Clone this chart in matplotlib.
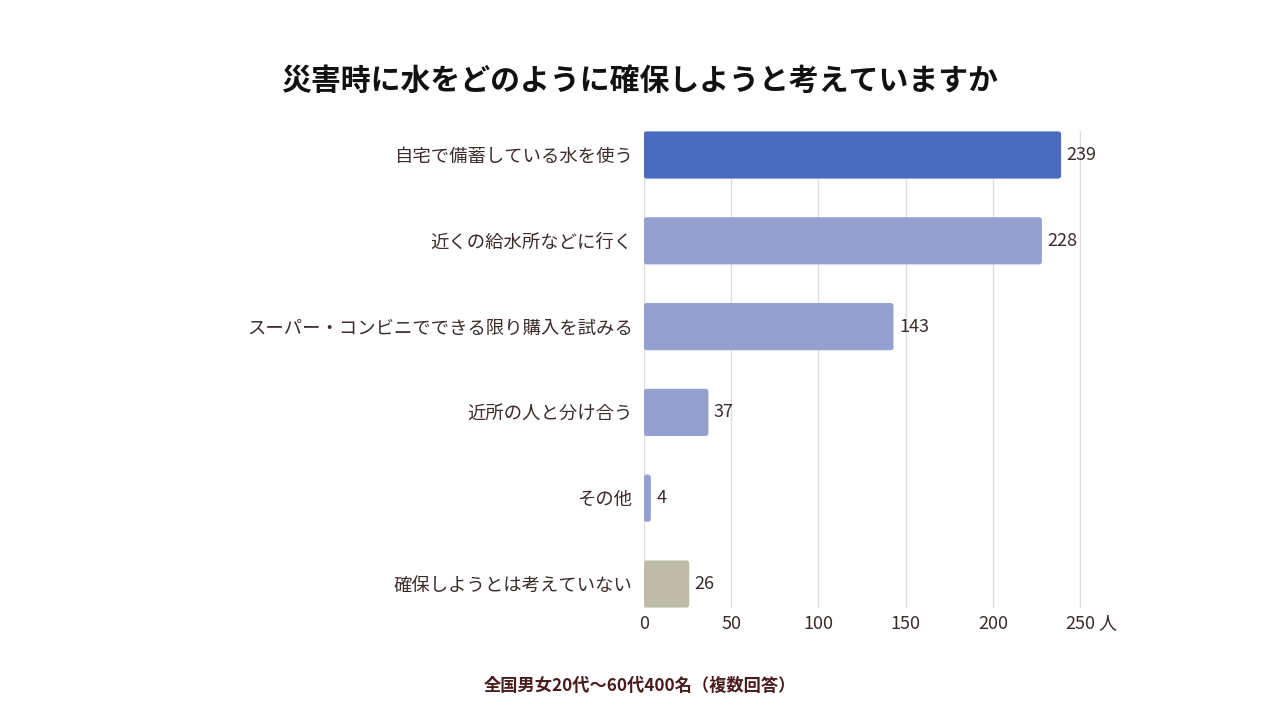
import matplotlib
matplotlib.use("Agg")
import matplotlib.pyplot as plt
from matplotlib.patches import FancyBboxPatch
from matplotlib.transforms import blended_transform_factory

plt.rcParams["font.family"] = ["Noto Sans CJK JP", "DejaVu Sans"]

# ── data ──
categories = [
    "自宅で備蓄している水を使う",
    "近くの給水所などに行く",
    "スーパー・コンビニでできる限り購入を試みる",
    "近所の人と分け合う",
    "その他",
    "確保しようとは考えていない",
]
counts = [239, 228, 143, 37, 4, 26]
bar_colors = ["#4a6bbf", "#94a0d0", "#94a0d0", "#94a0d0", "#94a0d0", "#bebba9"]
x_ticks = [0, 50, 100, 150, 200, 250]

title = "災害時に水をどのように確保しようと考えていますか"
footnote = "全国男女20代〜60代400名（複数回答）"
unit = "人"

text_color = "#3b2b2b"

fig = plt.figure(figsize=(12.8, 7.2), dpi=100)
ax = fig.add_axes([0.503, 0.1561, 0.3414, 0.6614])

y = list(range(len(categories)))
bars = ax.barh(y, counts, height=0.55, color=bar_colors, zorder=3)

ax.set_xlim(0, 250.3)
ax.set_ylim(5.275, -0.275)

# swap plain rectangles for slightly rounded ones
px_x = ax.get_window_extent().width / 250.3
px_y = ax.get_window_extent().height / 5.55
for b in bars:
    b.set_visible(False)
    w = b.get_width()
    r = min(1.6, w / 2)
    ax.add_patch(FancyBboxPatch((b.get_x(), b.get_y()), w, b.get_height(),
                                boxstyle=f"round,pad=0,rounding_size={r}",
                                mutation_aspect=px_x / px_y,
                                facecolor=b.get_facecolor(), edgecolor="none", zorder=3))

for yi, v in zip(y, counts):
    ax.annotate(str(v), (v, yi), xytext=(4, 0), textcoords="offset points",
                va="center", ha="left", fontsize=13, color=text_color)

ax.set_yticks(y)
ax.set_yticklabels(categories, fontsize=13.2, color=text_color)
ax.set_xticks(x_ticks)
ax.set_xticklabels([str(t) for t in x_ticks], fontsize=13, color=text_color)
ax.tick_params(axis="y", length=0, pad=8)
ax.tick_params(axis="x", length=0, pad=5)

ax.grid(axis="x", color="#dddddd", linewidth=1, zorder=0)
for s in ax.spines.values():
    s.set_visible(False)

# unit next to the last tick
trans = blended_transform_factory(ax.transData, ax.transAxes)
ax.annotate(unit, (250, 0), xycoords=trans, xytext=(13, -5), textcoords="offset points",
            ha="left", va="top", fontsize=13, color=text_color)

fig.text(0.5, 0.887, title, ha="center", va="center", fontsize=21.5,
         fontweight="bold", color="#111111")
fig.text(0.5, 0.047, footnote, ha="center", va="center", fontsize=12.4,
         fontweight="bold", color="#4a1c1c")

fig.savefig("out.png", dpi=100)
